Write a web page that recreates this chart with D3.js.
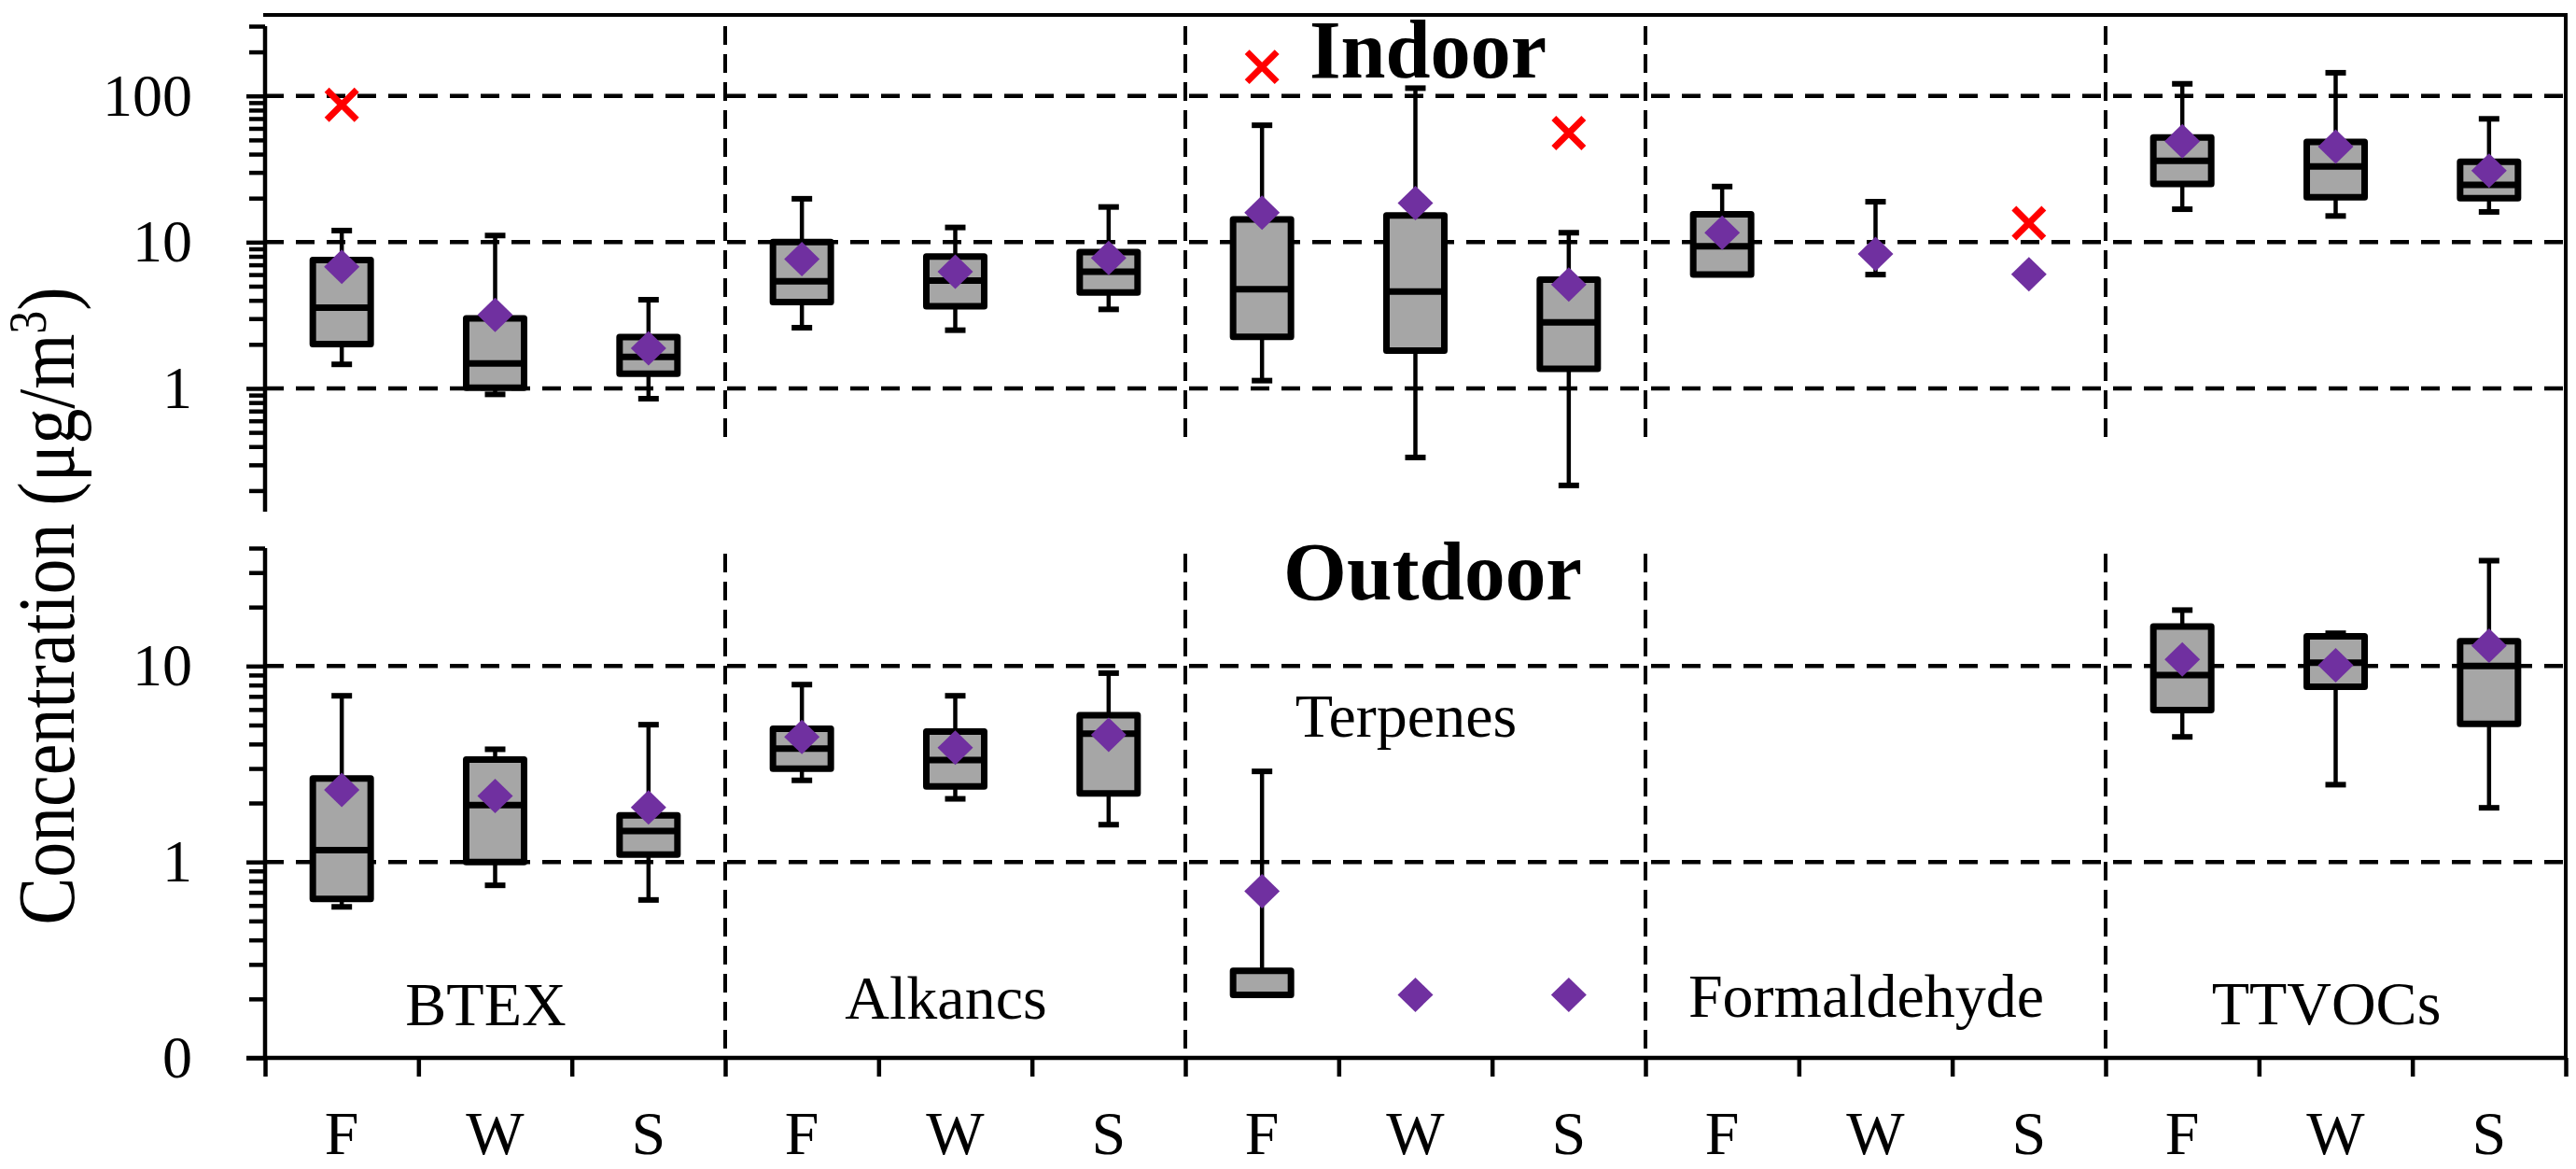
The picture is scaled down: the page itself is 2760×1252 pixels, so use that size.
<!DOCTYPE html>
<html><head><meta charset="utf-8">
<script src="https://cdn.jsdelivr.net/npm/d3@7"></script>
<style>html,body{margin:0;padding:0;background:#fff;} svg{display:block;}</style>
</head><body>
<svg id="c" width="2760" height="1252"></svg>
<script>
// ---------- data ----------
const groups = ["BTEX", "Alkancs", "Terpenes", "Formaldehyde", "TTVOCs"];
const seasons = ["F", "W", "S"];

// Indoor (order: BTEX F,W,S | Alkanes F,W,S | Terpenes F,W,S | Formaldehyde F,W,S | TTVOCs F,W,S)
const inMin  = [1.46, 0.91, 0.85, 2.6, 2.5, 3.47, 1.13, 0.337, 0.217, null, 6.0, null, 16.8, 15.1, 16.1];
const inQ1   = [2.01, 1.01, 1.26, 3.9, 3.64, 4.52, 2.25, 1.81, 1.36, 6.0, null, null, 25, 20.3, 20.0];
const inMed  = [3.57, 1.48, 1.64, 5.4, 5.46, 6.28, 4.77, 4.59, 2.83, 9.37, null, null, 36, 33, 24.6];
const inQ3   = [7.55, 3.01, 2.24, 10.0, 7.96, 8.55, 14.3, 15.2, 5.55, 15.5, null, null, 52, 48.4, 35.4];
const inMax  = [12.0, 11.1, 4.04, 19.8, 12.6, 17.4, 63, 113, 11.6, 24, 18.9, null, 121, 144, 69.7];
const inMean = [6.78, 3.18, 1.88, 7.67, 6.28, 7.8, 15.9, 18.5, 5.12, 11.6, 8.3, 6.03, 49, 45, 30.8];
const inOut  = [87, null, null, null, null, null, 158, null, 55.7, null, null, 13.5, null, null, null];

// Outdoor
const outMin  = [0.59, 0.76, 0.64, 2.61, 2.1, 1.55, null, null, null, null, null, null, 4.35, 2.48, 1.89];
const outQ1   = [0.647, 1.0, 1.09, 2.99, 2.43, 2.24, 0.21, null, null, null, null, null, 5.96, 7.85, 5.07];
const outMed  = [1.15, 1.95, 1.44, 3.79, 3.31, 4.52, 0.21, null, null, null, null, null, 9.0, 10.4, 10.0];
const outQ3   = [2.67, 3.33, 1.73, 4.79, 4.63, 5.61, 0.278, null, null, null, null, null, 15.9, 14.2, 13.4];
const outMax  = [7.05, 3.76, 5.02, 8.04, 7.05, 9.2, 2.9, null, null, null, null, null, 19.3, 14.7, 34.5];
const outMean = [2.33, 2.17, 1.9, 4.35, 3.83, 4.45, 0.71, 0.21, 0.21, null, null, null, 10.8, 10.1, 12.7];
const outOut  = [null, null, null, null, null, null, null, null, null, null, null, null, null, null, null];

// axis ticks
const topMajor = [1, 10, 100];
const topMajorLabels = ["1", "10", "100"];
const topMinor = [0.2,0.3,0.4,0.5,0.6,0.7,0.8,0.9,2,3,4,5,6,7,8,9,20,30,40,50,60,70,80,90,200,300];
const botMajor = [0.1, 1, 10];
const botMajorLabels = ["0", "1", "10"];
const botMinor = [0.2,0.3,0.4,0.5,0.6,0.7,0.8,0.9,2,3,4,5,6,7,8,9,20,30,40];

// ---------- layout ----------
const FONT = "'Liberation Serif','Times New Roman',serif";
const svg = d3.select("#c");
const X0 = 284, X1 = 2749;
const idx = d3.range(groups.length * seasons.length);
const x = d3.scaleBand().domain(idx).range([X0, X1]);
const xEdge = d3.scaleLinear().domain([0, idx.length]).range([X0, X1]);
const cx = i => x(i) + x.bandwidth() / 2;

const yTop = d3.scaleLog().domain([0.1435, 300]).range([548, 28]);
const yBot = d3.scaleLog().domain([0.1, 40]).range([1133, 587]);

const panels = [
  {y: yTop, min: inMin, q1: inQ1, med: inMed, q3: inQ3, max: inMax, mean: inMean, out: inOut,
   major: topMajor, labels: topMajorLabels, minor: topMinor, divEnd: 474},
  {y: yBot, min: outMin, q1: outQ1, med: outMed, q3: outQ3, max: outMax, mean: outMean, out: outOut,
   major: botMajor, labels: botMajorLabels, minor: botMinor, divEnd: 1124}
];

const BOXW = 31, CAPW = 11;

panels.forEach((p, pi) => {
  const g = svg.append("g");
  const y = p.y;
  const yr = y.range(); // [bottom, top]
  // gridlines
  const gridVals = p.major.filter(v => v >= 1);
  g.selectAll("line.grid").data(gridVals).join("line")
    .attr("x1", X0).attr("x2", X1)
    .attr("y1", d => y(d)).attr("y2", d => y(d))
    .attr("stroke", "#000").attr("stroke-width", 4.5).attr("stroke-dasharray", "20,13");
  // group dividers
  g.selectAll("line.div").data([1, 2, 3, 4]).join("line")
    .attr("x1", d => xEdge(d * 3)).attr("x2", d => xEdge(d * 3))
    .attr("y1", yr[1] + (pi === 0 ? 0 : 6)).attr("y2", p.divEnd)
    .attr("stroke", "#000").attr("stroke-width", 4).attr("stroke-dasharray", "20,10");

  // whiskers & boxes
  idx.forEach(i => {
    const hasBox = p.q1[i] != null && p.q3[i] != null;
    const wl = (a, b) => g.append("line").attr("x1", cx(i)).attr("x2", cx(i))
      .attr("y1", y(a)).attr("y2", y(b)).attr("stroke", "#000").attr("stroke-width", 4.5);
    if (hasBox) {
      if (p.max[i] != null) wl(p.q3[i], p.max[i]);
      if (p.min[i] != null) wl(p.q1[i], p.min[i]);
    } else if (p.min[i] != null && p.max[i] != null) {
      wl(p.min[i], p.max[i]);
    }
    [p.min[i], p.max[i]].forEach(v => {
      if (v == null) return;
      g.append("line").attr("x1", cx(i) - CAPW).attr("x2", cx(i) + CAPW)
        .attr("y1", y(v)).attr("y2", y(v)).attr("stroke", "#000").attr("stroke-width", 6);
    });
    if (hasBox) {
      g.append("rect").attr("x", cx(i) - BOXW).attr("width", BOXW * 2)
        .attr("y", y(p.q3[i])).attr("height", y(p.q1[i]) - y(p.q3[i]))
        .attr("fill", "#a6a6a6").attr("stroke", "#000").attr("stroke-width", 7)
        .attr("stroke-linejoin", "round");
      g.append("line").attr("x1", cx(i) - BOXW).attr("x2", cx(i) + BOXW)
        .attr("y1", y(p.med[i])).attr("y2", y(p.med[i]))
        .attr("stroke", "#000").attr("stroke-width", 7);
    }
  });
  // means
  g.selectAll("path.mean").data(idx.filter(i => p.mean[i] != null)).join("path")
    .attr("d", "M0,-18.5L19,0L0,18.5L-19,0Z")
    .attr("transform", i => `translate(${cx(i)},${y(p.mean[i])})`)
    .attr("fill", "#7030a0");
  // outliers
  idx.filter(i => p.out[i] != null).forEach(i => {
    const s = 16;
    const og = g.append("g").attr("transform", `translate(${cx(i)},${y(p.out[i])})`);
    og.append("line").attr("x1", -s).attr("y1", -s).attr("x2", s).attr("y2", s);
    og.append("line").attr("x1", -s).attr("y1", s).attr("x2", s).attr("y2", -s);
    og.selectAll("line").attr("stroke", "#ff0000").attr("stroke-width", 7);
  });

  // y axis: minor ticks group
  const mg = svg.append("g").attr("transform", `translate(${X0},0)`)
    .call(d3.axisLeft(y).tickValues(p.minor).tickSize(17).tickFormat(""));
  // major ticks + labels group
  const ag = svg.append("g").attr("transform", `translate(${X0},0)`)
    .call(d3.axisLeft(y).tickValues(p.major).tickSize(20).tickPadding(58)
      .tickFormat((d, k) => p.labels[k]));
  [mg, ag].forEach(a => {
    a.selectAll(".domain").remove();
    a.selectAll(".tick line").attr("stroke", "#000").attr("stroke-width", 4.5);
  });
  ag.selectAll(".tick text").attr("font-family", FONT).attr("font-size", 64).attr("fill", "#000");
  ag.append("line").attr("x1", 0).attr("x2", 0).attr("y1", yr[1]).attr("y2", yr[0])
    .attr("stroke", "#000").attr("stroke-width", 4.5);
});

// x axis: boundary ticks
const xb = yBot.range()[0];
const xg = svg.append("g").attr("transform", `translate(0,${xb})`)
  .call(d3.axisBottom(xEdge).tickValues(d3.range(idx.length + 1)).tickSize(20).tickFormat(""));
xg.selectAll(".domain").remove();
xg.selectAll(".tick line").attr("stroke", "#000").attr("stroke-width", 4.5);
// x axis: category labels
const xl = svg.append("g").attr("transform", `translate(0,${xb})`)
  .call(d3.axisBottom(x).tickSize(0).tickPadding(56).tickFormat(i => seasons[i % 3]));
xl.selectAll(".domain").remove();
xl.selectAll(".tick text").attr("font-family", FONT).attr("font-size", 66).attr("fill", "#000");
xg.append("line").attr("x1", 264).attr("x2", X1 + 2).attr("y1", 0).attr("y2", 0)
  .attr("stroke", "#000").attr("stroke-width", 4.5);

// frame: top border and right border
svg.append("line").attr("x1", 282).attr("x2", X1 + 2).attr("y1", 16).attr("y2", 16)
  .attr("stroke", "#000").attr("stroke-width", 4);
svg.append("line").attr("x1", X1).attr("x2", X1).attr("y1", 14).attr("y2", xb)
  .attr("stroke", "#000").attr("stroke-width", 4);

// group labels
const groupLabelY = [1098, 1091, 789, 1089, 1097];
svg.selectAll("text.grp").data(groups).join("text")
  .attr("x", (d, k) => xEdge(k * 3 + 1.5) - 10)
  .attr("y", (d, k) => groupLabelY[k])
  .attr("text-anchor", "middle").attr("font-family", FONT).attr("font-size", 66)
  .text(d => d);

// titles
svg.append("text").attr("x", 1530).attr("y", 83).attr("text-anchor", "middle")
  .attr("font-family", FONT).attr("font-weight", "bold").attr("font-size", 88)
  .attr("textLength", 254).attr("lengthAdjust", "spacingAndGlyphs").text("Indoor");
svg.append("text").attr("x", 1535).attr("y", 642).attr("text-anchor", "middle")
  .attr("font-family", FONT).attr("font-weight", "bold").attr("font-size", 88)
  .attr("textLength", 320).attr("lengthAdjust", "spacingAndGlyphs").text("Outdoor");

// y axis title
const yt = svg.append("text").attr("text-anchor", "middle")
  .attr("font-family", FONT).attr("font-size", 86);
yt.append("tspan").text("Concentration (\u03BCg/m");
yt.append("tspan").attr("font-size", 56).attr("dy", -30).text("3");
yt.append("tspan").attr("dy", 30).text(")");
const nat = yt.node().getComputedTextLength();
const sx = 683 / nat;
yt.attr("transform", `translate(79,649) rotate(-90) scale(${sx},1)`);
</script>
</body></html>
